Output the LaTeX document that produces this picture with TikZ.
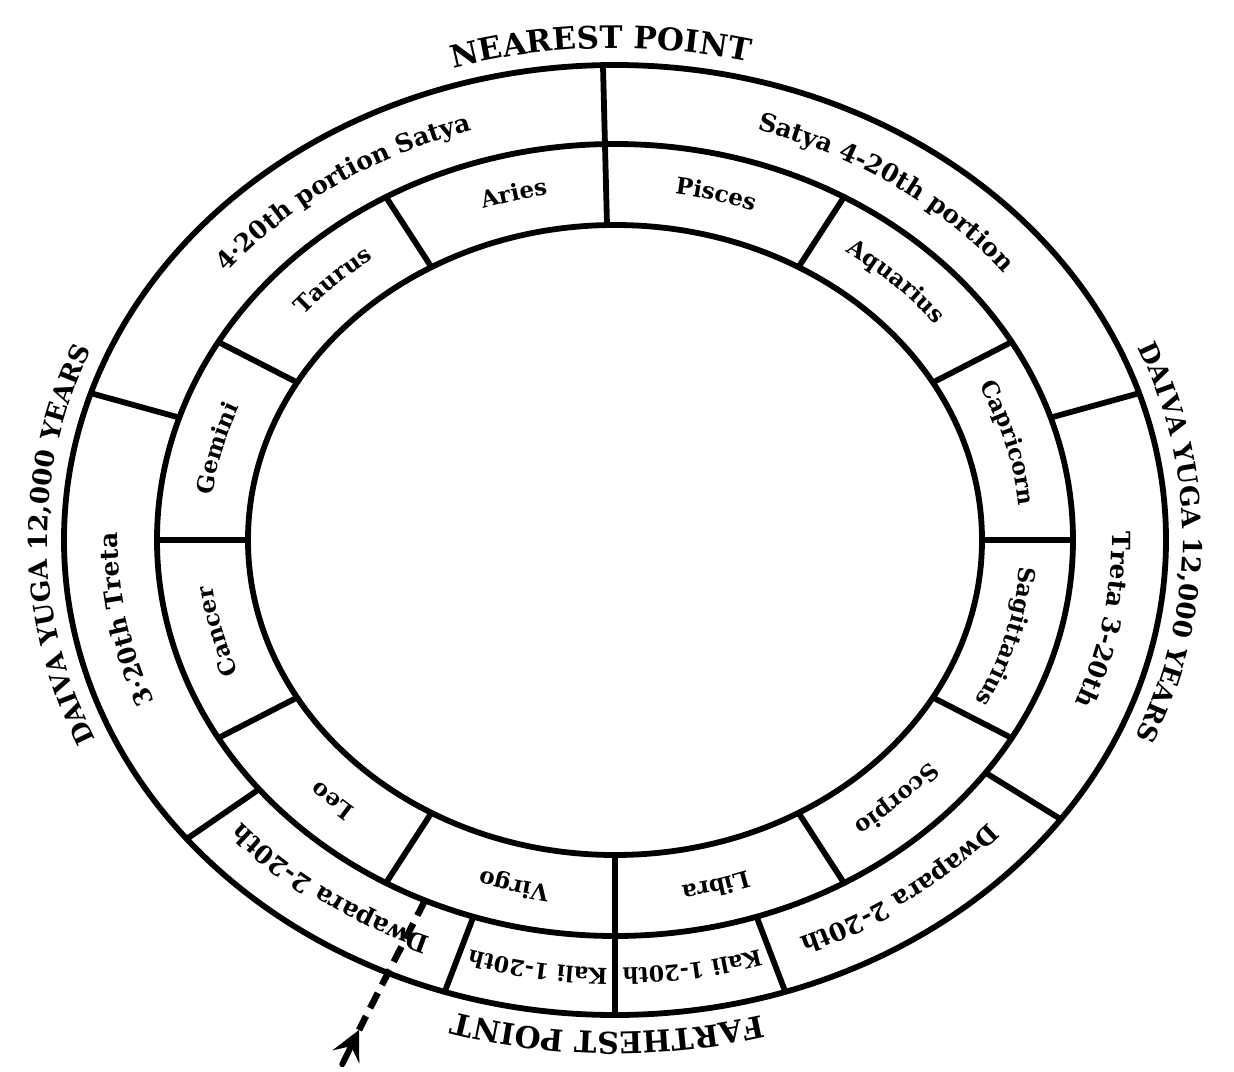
\documentclass[tikz,border=0pt]{standalone}
\usepackage{fontspec}
\setmainfont{DejaVu Serif}
\usetikzlibrary{decorations.text}
\tikzset{
  ring/.style={line width=5.8pt},
  divider/.style={line width=5.8pt},
  pointer/.style={line width=6.5pt, dash pattern=on 17pt off 9pt},
}
% #1 centre angle, #2 half span, #3 x radius, #4 y radius, #5 font size, #6 text
\newcommand{\alongarc}[6]{%
  \path[decorate,decoration={text along path, text align=center,
      text={|\fontsize{#5}{#5}\selectfont\bfseries|#6}}]
    (#1+#2:#3 and #4) arc[start angle=#1+#2, end angle=#1-#2, x radius=#3, y radius=#4];}
\begin{document}
\begin{tikzpicture}[x=1pt,y=1pt]
\fill[white] (-615,-531) rectangle (619,540);
\useasboundingbox (-615,-531) rectangle (619,540);
% rings
\draw[ring] (0,0) ellipse [x radius=551pt, y radius=475pt];
\draw[ring] (0,0) ellipse [x radius=458pt, y radius=396pt];
\draw[ring] (0,0) ellipse [x radius=367pt, y radius=315pt];
% lines through both bands
\draw[divider] (91.25:551pt and 475pt) -- (91.25:367pt and 315pt);
\draw[divider] (270:551pt and 475pt) -- (270:367pt and 315pt);
% zodiac divisions
\foreach \a in {0,30,60,120,150,180,210,240,300,330}
  \draw[divider] (\a:458pt and 396pt) -- (\a:367pt and 315pt);
% yuga divisions
\foreach \a in {18,162,219,252,288,324}
  \draw[divider] (\a:551pt and 475pt) -- (\a:458pt and 396pt);
% zodiac labels
\alongarc{105}{40}{406pt}{350pt}{23}{Aries}
\alongarc{135}{40}{406pt}{350pt}{23}{Taurus}
\alongarc{166}{40}{406pt}{350pt}{23}{Gemini}
\alongarc{194}{40}{406pt}{350pt}{23}{Cancer}
\alongarc{225}{40}{406pt}{350pt}{23}{Leo}
\alongarc{255}{40}{406pt}{350pt}{23}{Virgo}
\alongarc{285}{40}{406pt}{350pt}{23}{Libra}
\alongarc{315}{40}{406pt}{350pt}{23}{Scorpio}
\alongarc{345}{40}{406pt}{350pt}{23}{Sagittarius}
\alongarc{15}{40}{406pt}{350pt}{23}{Capricorn}
\alongarc{45}{40}{406pt}{350pt}{23}{Aquarius}
\alongarc{75}{40}{406pt}{350pt}{23}{Pisces}
% yuga labels
\alongarc{126}{50}{497pt}{428pt}{25}{4·20th portion Satya}
\alongarc{54}{50}{497pt}{428pt}{25}{Satya 4-20th portion}
\alongarc{190}{40}{497pt}{428pt}{25}{3·20th Treta}
\alongarc{350}{40}{497pt}{428pt}{25}{Treta 3-20th}
\alongarc{234}{30}{497pt}{428pt}{25}{Dwapara 2-20th}
\alongarc{306}{30}{497pt}{428pt}{25}{Dwapara 2-20th}
\alongarc{261}{20}{497pt}{428pt}{22}{Kali 1-20th}
\alongarc{279}{20}{497pt}{428pt}{22}{Kali 1-20th}
% outside headings
\alongarc{91.5}{30}{568pt}{492pt}{31}{NEAREST POINT}
\alongarc{269.2}{30}{568pt}{492pt}{30}{FARTHEST POINT}
\alongarc{180.6}{40}{568pt}{492pt}{26}{DAIVA YUGA 12,000 YEARS}
\alongarc{359.7}{40}{568pt}{492pt}{26}{DAIVA YUGA 12,000 YEARS}
% dashed pointer
\coordinate (ptrStart) at (245.5:458pt and 396pt);
\coordinate (ptrTip) at (-256,-490);
\draw[pointer] (ptrStart) -- (ptrTip);
\fill (ptrTip) -- ++(-26.7,-20.4) -- ++(18.8,4.2) -- ++(8.2,-17.4) -- cycle;
\draw[line width=6pt, line cap=round] (ptrTip) ++(-7.9,-16.2) -- ++(-8.8,-18);
\end{tikzpicture}
\end{document}
